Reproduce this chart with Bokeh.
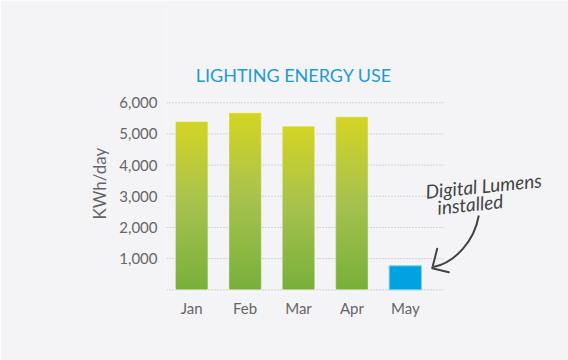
from bokeh.plotting import figure
from bokeh.models import Range1d, FixedTicker, NumeralTickFormatter, Title
from bokeh.core.properties import value
from bokeh.embed import file_html
from bokeh.resources import INLINE

# ---- data ----
months = ["Jan", "Feb", "Mar", "Apr", "May"]
kwh_per_day = [5400, 5680, 5250, 5550, 770]
after_install = [False, False, False, False, True]
y_ticks = [0, 1000, 2000, 3000, 4000, 5000, 6000]
title_text = "LIGHTING ENERGY USE"
y_label = "KWh/day"
note_lines = ["Digital Lumens", "installed"]

# ---- style ----
FONT = "Lato"
BG = "#f4f4f6"
TXT = "#666666"
GREEN_STOPS = [(0.0, (0x77, 0xb0, 0x3a)), (0.5, (0xa6, 0xc1, 0x4e)), (1.0, (0xd4, 0xd5, 0x23))]
BLUE = "#00a2df"

def grad(f):
    for (f0, c0), (f1, c1) in zip(GREEN_STOPS[:-1], GREEN_STOPS[1:]):
        if f <= f1:
            t = (f - f0) / (f1 - f0)
            c = [round(a + (b - a) * t) for a, b in zip(c0, c1)]
            return "#%02x%02x%02x" % tuple(c)
    return "#%02x%02x%02x" % GREEN_STOPS[-1][1]

XR = (-0.472, 7.056)
YR = (-87, 9281)
p = figure(width=568, height=360, output_backend="svg", toolbar_location=None,
           x_range=Range1d(*XR), y_range=Range1d(*YR),
           min_border_left=166, min_border_right=0, min_border_top=0, min_border_bottom=68)
p.background_fill_color = BG
p.border_fill_color = BG
p.outline_line_color = None
p.grid.visible = False

# dotted gridlines across the category area only
gx0, gx1 = -0.472, 4.734
p.segment(x0=[gx0] * len(y_ticks), x1=[gx1] * len(y_ticks), y0=y_ticks, y1=y_ticks,
          line_color="#b0b0b4", line_width=1, line_dash="1 2")

# bars
width = 0.605
N = 80
for i, (v, blue) in enumerate(zip(kwh_per_day, after_install)):
    if blue:
        p.vbar(x=[i], top=[v], bottom=[0], width=width, fill_color=BLUE,
               line_color="#7fd0ef", line_width=1)
    else:
        xs, tops, bots, cols = [], [], [], []
        for k in range(N):
            xs.append(i)
            bots.append(v * k / N)
            tops.append(min(v, v * (k + 1.7) / N))
            cols.append(grad((k + 0.5) / N))
        p.vbar(x=xs, top=tops, bottom=bots, width=width, fill_color=cols, line_color=None)
        p.vbar(x=[i], top=[v], bottom=[0], width=width, fill_alpha=0,
               line_color="#ffffff", line_alpha=0.4, line_width=1)

# axes
p.xaxis.ticker = FixedTicker(ticks=list(range(len(months))))
p.xaxis.major_label_overrides = {i: m for i, m in enumerate(months)}
p.yaxis.ticker = FixedTicker(ticks=y_ticks[1:])
p.yaxis.formatter = NumeralTickFormatter(format="0,0")
for ax in (p.xaxis, p.yaxis):
    ax.axis_line_color = None
    ax.major_tick_line_color = None
    ax.minor_tick_line_color = None
    ax.major_tick_out = 0
    ax.major_tick_in = 0
    ax.major_label_text_font = FONT
    ax.major_label_text_font_size = "15px"
    ax.major_label_text_color = TXT
p.yaxis.major_label_standoff = 9
p.xaxis.major_label_standoff = 6

# y axis label as a left-side title
p.add_layout(Title(text=y_label, align="left", offset=73, standoff=14, text_font=FONT,
                   text_font_size="17px", text_font_style="normal", text_color=TXT), "left")

# title
p.text(x=[1.913], y=[6898], text=[title_text], text_align="center", text_baseline="alphabetic",
       text_font=value(FONT), text_font_size="18px", text_color="#1d9bd7")

# note
p.text(x=[4.38, 4.60], y=[3160, 2650], text=note_lines, angle=0.10, text_align="left",
       text_baseline="alphabetic", text_font=value(FONT), text_font_style="italic",
       text_font_size="19px", text_color="#444444")
p.bezier(x0=[5.376], y0=[2384], x1=[4.528], y1=[731], cx0=[5.296], cy0=[1582],
         cx1=[4.94], cy1=[876], line_color="#444444", line_width=2)
p.multi_line(xs=[[4.597, 4.504, 4.815]], ys=[[1315, 693, 565]], line_color="#444444",
             line_width=2, line_join="round", line_cap="round")

open("out.html", "w").write(file_html(p, INLINE))
